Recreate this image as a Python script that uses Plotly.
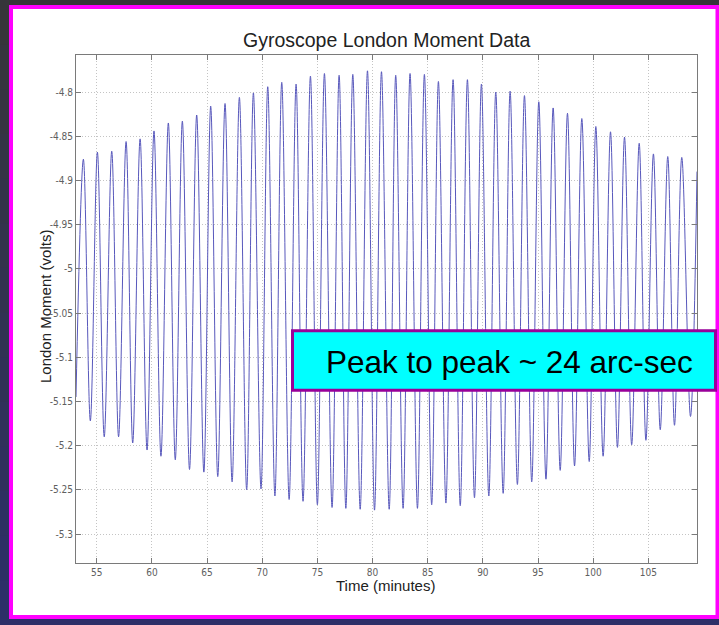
import plotly.graph_objects as go

# Times (minutes) and levels (volts) of each oscillation crest
peak_t = [53.79, 55.06, 56.36, 57.66, 58.93, 60.19, 61.49, 62.76, 64.06, 65.33,
          66.63, 67.93, 69.20, 70.50, 71.77, 73.07, 74.37, 75.64, 76.97, 78.21,
          79.54, 80.81, 82.10, 83.40, 84.70, 85.97, 87.30, 88.60, 89.87, 91.17,
          92.47, 93.77, 95.07, 96.37, 97.67, 98.97, 100.24, 101.57, 102.84, 104.17,
          105.46, 106.76, 108.03]
peak_v = [-4.876, -4.868, -4.867, -4.856, -4.853, -4.844, -4.835, -4.833, -4.826, -4.816,
          -4.813, -4.806, -4.801, -4.794, -4.789, -4.791, -4.782, -4.779, -4.781, -4.780,
          -4.776, -4.777, -4.781, -4.779, -4.780, -4.788, -4.786, -4.786, -4.791, -4.800,
          -4.799, -4.804, -4.811, -4.818, -4.824, -4.830, -4.839, -4.845, -4.851, -4.858,
          -4.870, -4.873, -4.874]

# Times (minutes) and levels (volts) of each oscillation trough
trough_t = [54.42, 55.68, 56.98, 58.26, 59.56, 60.82, 62.12, 63.41, 64.71, 65.97,
            67.27, 68.59, 69.89, 71.15, 72.44, 73.70, 75.00, 76.33, 77.58, 78.88,
            80.18, 81.51, 82.77, 84.07, 85.36, 86.65, 87.95, 89.24, 90.54, 91.84,
            93.13, 94.43, 95.72, 97.01, 98.31, 99.64, 100.90, 102.20, 103.49, 104.78,
            106.08, 107.37, 108.82]
trough_v = [-5.172, -5.190, -5.190, -5.197, -5.205, -5.212, -5.216, -5.227, -5.230, -5.235,
            -5.241, -5.250, -5.249, -5.257, -5.261, -5.263, -5.267, -5.270, -5.271, -5.272,
            -5.273, -5.272, -5.271, -5.271, -5.267, -5.265, -5.268, -5.259, -5.257, -5.254,
            -5.244, -5.241, -5.238, -5.228, -5.223, -5.218, -5.212, -5.202, -5.199, -5.194,
            -5.182, -5.177, -5.167]

# First and last recorded samples of the window
start_t, start_v = 53.12, -5.145
end_t, end_v = 109.41, -4.890

x_ticks = [55, 60, 65, 70, 75, 80, 85, 90, 95, 100, 105]
x_tick_text = ["55", "60", "65", "70", "75", "80", "85", "90", "95", "100", "105"]
y_ticks = [-4.8, -4.85, -4.9, -4.95, -5.0, -5.05, -5.1, -5.15, -5.2, -5.25, -5.3]
y_tick_text = ["-4.8", "-4.85", "-4.9", "-4.95", "-5", "-5.05", "-5.1", "-5.15",
               "-5.2", "-5.25", "-5.3"]

title_text = "Gyroscope London Moment Data"
x_title = "Time (minutes)"
y_title = "London Moment (volts)"
callout_text = "Peak to peak ~ 24 arc-sec"

# Interleave crests and troughs into one time series
t = [start_t]
v = [start_v]
for pt, pv, tt, tv in zip(peak_t, peak_v, trough_t, trough_v):
    t += [pt, tt]
    v += [pv, tv]
t.append(end_t)
v.append(end_v)

W, H = 719, 625
L, R, T, B = 76, 22, 55, 62
pw, ph = W - L - R, H - T - B


def px(x):
    return (x - L) / pw


def py(y):
    return (H - B - y) / ph


fig = go.Figure()
fig.add_trace(go.Scatter(
    x=t, y=v, mode="lines",
    line=dict(color="rgb(88,88,188)", width=1, shape="spline", smoothing=1.0),
    hoverinfo="skip", showlegend=False,
))

shapes = []
# dark backdrop, grey at top fading to navy at the bottom
n_bands = 14
top_c = (54, 53, 58)
bot_c = (45, 47, 104)
for i in range(n_bands):
    f = i / (n_bands - 1)
    c = tuple(int(round(a + (b - a) * f)) for a, b in zip(top_c, bot_c))
    y0 = H * i / n_bands
    y1 = H * (i + 1) / n_bands
    shapes.append(dict(type="rect", xref="paper", yref="paper", layer="below",
                       x0=px(-5), x1=px(W + 5), y0=py(y1 + 1), y1=py(y0),
                       fillcolor="rgb(%d,%d,%d)" % c, line=dict(width=0)))
# white slide panel with magenta frame
shapes.append(dict(type="rect", xref="paper", yref="paper", layer="below",
                   x0=px(11), x1=px(717.5), y0=py(617), y1=py(7),
                   fillcolor="white", line=dict(color="#ff00ff", width=4)))
# callout box
shapes.append(dict(type="rect", xref="paper", yref="paper", layer="above",
                   x0=px(292.5), x1=px(715.5), y0=py(390.2), y1=py(330.8),
                   fillcolor="#00ffff", line=dict(color="#990099", width=3)))

tick_font = dict(family="Liberation Sans Narrow, DejaVu Sans Condensed, Arial Narrow, sans-serif",
                 size=10, color="#606060")

axis_common = dict(
    showline=True, linecolor="#7a7a7a", linewidth=1, mirror="ticks",
    ticks="inside", ticklen=5, tickcolor="#7a7a7a", tickwidth=1,
    showgrid=True, gridcolor="#c4c4c4", gridwidth=1, griddash="1px,2px",
    zeroline=False, tickfont=tick_font,
)

fig.update_xaxes(range=[53.12, 109.41], tickvals=x_ticks, ticktext=x_tick_text,
                 **axis_common)
fig.update_yaxes(range=[-5.3328, -4.7581], tickvals=y_ticks, ticktext=y_tick_text,
                 **axis_common)

annotations = [
    dict(text=title_text, xref="paper", yref="paper", x=0.5, y=py(40),
         xanchor="center", yanchor="middle", showarrow=False,
         font=dict(family="Liberation Sans, Arial, sans-serif", size=19.5, color="#222222")),
    dict(text=x_title, xref="paper", yref="paper", x=px(385), y=py(585),
         xanchor="center", yanchor="middle", showarrow=False,
         font=dict(family="Liberation Sans, Arial, sans-serif", size=15, color="#222222")),
    dict(text=y_title, xref="paper", yref="paper", x=px(45), y=py(307),
         xanchor="center", yanchor="middle", showarrow=False, textangle=-90,
         font=dict(family="Liberation Sans, Arial, sans-serif", size=15, color="#222222")),
    dict(text=callout_text, xref="paper", yref="paper", x=px(324), y=py(362),
         xanchor="left", yanchor="middle", showarrow=False,
         font=dict(family="Liberation Sans, Arial, sans-serif", size=31.5, color="black")),
]

fig.update_layout(
    width=W, height=H,
    margin=dict(l=L, r=R, t=T, b=B, pad=0),
    paper_bgcolor="rgb(50,50,80)",
    plot_bgcolor="rgba(0,0,0,0)",
    shapes=shapes,
    annotations=annotations,
    showlegend=False,
)

fig.write_html("out.html")
